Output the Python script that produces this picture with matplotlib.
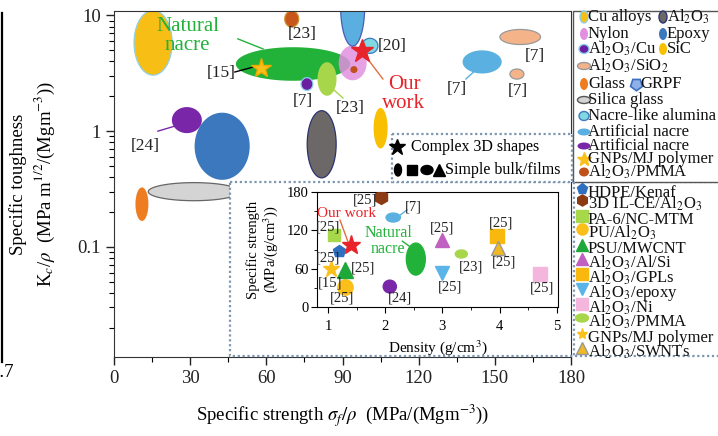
import numpy as np
import matplotlib.pyplot as plt
from matplotlib.patches import Rectangle, Ellipse
from matplotlib.ticker import MultipleLocator, NullFormatter

plt.rcParams['font.family'] = ['Liberation Serif', 'DejaVu Serif']
plt.rcParams['mathtext.fontset'] = 'stix'

# ---- main chart: material regions (centre and span) ----
region_names = ['Silica glass', 'Glass', 'Epoxy', 'Cu alloys', 'Artificial nacre [24]', 'Natural nacre',
                'Al2O3', 'SiC', 'Nacre [23]', 'Al2O3/Cu [7]', 'Nylon', 'Al2O3/PMMA', 'GRPF',
                'Nacre-like alumina [20]', 'Al2O3/PMMA [23]', 'Artificial nacre [7]',
                'Al2O3/SiO2 [7] a', 'Al2O3/SiO2 [7] b']
region_strength = [31.5, 11, 42.6, 15.4, 28.7, 70.5, 81.8, 105, 83.9, 76, 94, 94.5, 94,
                   100.8, 70, 145, 160, 158.7]
region_toughness = [0.30, 0.234, 0.74, 5.8, 1.245, 3.8, 0.77, 1.06, 2.82, 2.55, 3.88, 3.4, 12,
                    5.45, 9.3, 3.96, 6.5, 3.11]
region_strength_span = [36, 5.1, 21.7, 15, 11.8, 45, 11.4, 5.5, 7.5, 4.7, 11, 2.8, 9.5,
                        6.3, 5.5, 15.4, 16, 5.5]
# toughness span in decades (log axis)
region_toughness_span = [0.156, 0.29, 0.58, 0.56, 0.225, 0.29, 0.58, 0.35, 0.29, 0.11, 0.30, 0.06, 0.69,
                         0.13, 0.14, 0.2, 0.13, 0.087]

star_names = ['GNPs/MJ polymer', 'Our work']
star_strength = [57.9, 97.6]
star_toughness = [3.5, 4.93]

ref_text = ['[23]', '[15]', '[7]', '[23]', '[20]', '[7]', '[7]', '[7]', '[24]']
ref_x = [74, 42.1, 74.4, 92.9, 109.4, 135, 165.7, 159, 12.2]
ref_y = [6.9, 3.18, 1.82, 1.58, 5.45, 2.31, 4.46, 2.22, 0.74]

# leader lines (x pair, y pair)
leader_x = [(48.8, 58.7), (47.6, 54.7), (86.2, 90.2), (99.6, 105.9), (142.1, 138.6), (17.3, 24)]
leader_y = [(6.26, 5.13), (3.24, 3.57), (2.31, 1.93), (4.29, 2.82), (3.31, 2.82), (1.0, 1.105)]

# ---- inset: specific strength vs density ----
ins_names = ['HDPE/Kenaf', '3D IL-CE/Al2O3', 'PA-6/NC-MTM', 'PU/Al2O3', 'PSU/MWCNT', 'Al2O3/Al/Si',
             'Al2O3/GPLs', 'Al2O3/epoxy', 'Al2O3/Ni', 'GNPs/MJ polymer', 'Al2O3/SWNTs', 'Our work']
ins_density = [1.2, 1.93, 1.1, 1.3, 1.3, 3.0, 3.95, 3.0, 4.7, 1.05, 3.98, 1.4]
ins_strength = [88, 172, 112, 32, 58, 105, 111, 53, 51, 60, 93, 97]

ins_region_names = ['Natural nacre', 'Artificial nacre [7]', 'Artificial nacre [24]', 'Al2O3/PMMA [23]']
ins_region_density = [2.535, 2.14, 2.08, 3.33]
ins_region_strength = [75, 140, 32, 83]
ins_region_dspan = [0.33, 0.25, 0.23, 0.21]
ins_region_sspan = [50, 14, 20, 12.5]

ins_ref_text = ['[25]', '[7]', '[25]', '[25]', '[15]', '[25]', '[25]', '[24]', '[25]', '[25]', '[23]',
                '[25]', '[25]', '[25]']
ins_ref_x = [1.65, 2.49, 1.0, 1.0, 1.03, 1.61, 1.25, 2.26, 3.0, 3.13, 3.5, 4.02, 4.07, 4.74]
ins_ref_y = [167, 157, 125, 77, 37, 61, 14, 14, 123, 31, 63, 131, 70, 30]

# ---- styles ----
region_face = ['#d4d4d4', '#ee7d22', '#3c78be', '#f7be16', '#7a26a8', '#22b23a',
               '#6d6868', '#f8c000', '#a8d64a', '#6a1fa0', '#e28fe0', '#c0501c', '#5aaee0',
               '#80d8e2', '#c8561a', '#5ab0e0', '#f5b38a', '#f5b38a']
region_edge = ['#666666', 'none', 'none', '#8fd0e8', 'none', 'none',
               '#2b3370', 'none', 'none', '#8fd0f0', 'none', 'none', '#4a5fb0',
               '#3b7bbf', '#d09030', 'none', '#999999', '#999999']
region_alpha = [1] * 10 + [0.85] + [1] * 7

ins_marker = ['p', 'h', 's', 'o', '^', '^', 's', 'v', 's', '*', '^', '*']
ins_color = ['#2f6fbf', '#8b3a12', '#a6d84a', '#fbbf1a', '#1fa83a', '#c060c0', '#f9b80e', '#5ab4e8',
             '#f4b6dc', '#fbc01a', '#f0b823', '#e8242a']
ins_ms = [9, 10, 8, 11, 11, 10, 10, 10, 10, 12, 10, 14]
ins_region_color = ['#22b23a', '#5ab0e0', '#7a26a8', '#a8d64a']

fig = plt.figure(figsize=(7.18, 4.36), dpi=100)
W, H = 718, 436


def frac(x0, y0, x1, y1):
    return [x0 / W, 1 - y1 / H, (x1 - x0) / W, (y1 - y0) / H]


ax = fig.add_axes(frac(114, 11, 571, 357), zorder=0)
t = np.linspace(0, 2 * np.pi, 160)
for i in range(len(region_names)):
    xs = region_strength[i] + region_strength_span[i] / 2 * np.cos(t)
    ys = 10 ** (np.log10(region_toughness[i]) + region_toughness_span[i] / 2 * np.sin(t))
    ax.fill(xs, ys, fc=region_face[i], ec=region_edge[i], lw=0.9, alpha=region_alpha[i], zorder=2 + i * 0.01)

ax.plot(star_strength[0], star_toughness[0], marker='*', ms=15, color='#fbc01a', mec='#f0a800', zorder=4)
ax.plot(star_strength[1], star_toughness[1], marker='*', ms=17, color='#e8242a', zorder=4)

leader_colors = ['#22b23a', 'black', '#a8d64a', '#e07040', '#5ab0e0', '#7a26a8']
for lx, ly, c in zip(leader_x, leader_y, leader_colors):
    ax.plot(lx, ly, color=c, lw=1.0, zorder=3)
for s, x, y in zip(ref_text, ref_x, ref_y):
    ax.text(x, y, s, fontsize=12.5, ha='center', va='center', color='#222222', zorder=5)
ax.text(29, 6.64, 'Natural\nnacre', fontsize=15, color='#22b23a', ha='center', va='center',
        linespacing=1.0, zorder=5)
ax.text(114.2, 2.09, 'Our\nwork', fontsize=15, color='#e8242a', ha='center', va='center',
        linespacing=1.0, zorder=5)

ax.set_yscale('log')
ax.set_xlim(0, 180)
ax.set_ylim(0.0112, 10.9)
ax.set_xticks(range(0, 181, 30))
ax.xaxis.set_minor_locator(MultipleLocator(15))
ax.set_yticks([0.1, 1, 10], labels=['0.1', '1', '10'])
ax.yaxis.set_minor_formatter(NullFormatter())
ax.tick_params(which='major', direction='out', length=6, width=1, labelsize=13.5, colors='#222222')
ax.tick_params(which='minor', direction='out', length=3.5, width=0.8)
for sp in ax.spines.values():
    sp.set_color('#333333')
ax.set_xlabel('Specific strength $\\sigma_f/\\rho$  (MPa/(Mgm$^{-3}$))', fontsize=13.5, labelpad=11)
ax.set_ylabel('Specific toughness\nK$_c$/$\\rho$  (MPa m$^{1/2}$/(Mgm$^{-3}$))', fontsize=13.5,
              linespacing=1.3)
ax.yaxis.set_label_coords(-0.125, 0.5)

# overlay for boxes and legends (pixel coordinates)
ov = fig.add_axes([0, 0, 1, 1], zorder=1)
ov.set_xlim(0, W)
ov.set_ylim(H, 0)
ov.axis('off')
dot = '#7d97b0'
ov.add_patch(Rectangle((230, 182), 340, 174, fc='white', ec='none'))
ov.add_patch(Rectangle((230, 182), 495, 174, fc='none', ec=dot, lw=1.6, ls=(0, (1, 1.2))))
ov.plot([574, 574], [182, 356], color=dot, lw=1.6, ls=(0, (1, 1.2)))
ov.add_patch(Rectangle((573, 11), 150, 171, fc='white', ec='#555555', lw=1))
ov.add_patch(Rectangle((392, 134), 180, 48, fc='white', ec=dot, lw=1.6, ls=(0, (1, 1.2))))
ov.plot([1.5, 1.5], [13, 362], color='black', lw=1.6)
ov.text(14, 372, '0.7', ha='right', va='center', fontsize=13.5)

# shape legend
ov.plot(397, 147, marker='*', ms=12, color='black')
ov.text(411, 147, 'Complex 3D shapes', fontsize=11.5, va='center')
ov.add_patch(Ellipse((398, 170), 7, 12, color='black'))
ov.add_patch(Rectangle((407, 165), 10, 10, color='black'))
ov.add_patch(Ellipse((427, 170), 12, 9, color='black'))
ov.plot(439, 170, marker='^', ms=8, color='black')
ov.text(445, 170, 'Simple bulk/films', fontsize=11.5, va='center')

# legend 1 (regions)
leg1 = [('Cu alloys', 584, 17, 'v', '#f7be16', '#8fd0e8'),
        ('Al$_2$O$_3$', 663, 17, 'v', '#6d6868', '#2b3370'),
        ('Nylon', 584, 34, 'v', '#e28fe0', 'none'),
        ('Epoxy', 663, 34, 'v', '#3c78be', 'none'),
        ('Al$_2$O$_3$/Cu', 584, 49, 'c', '#6a1fa0', '#8fd0f0'),
        ('SiC', 663, 49, 'v', '#f8c000', 'none'),
        ('Al$_2$O$_3$/SiO$_2$', 584, 66, 'h', '#f5b38a', '#999999'),
        ('Glass', 584, 84, 'v', '#ee7d22', 'none'),
        ('GRPF', 636, 84, 'g', '#8fb0e8', '#3b6fc0'),
        ('Silica glass', 584, 100, 'h', '#d4d4d4', '#555555'),
        ('Nacre-like alumina', 584, 116, 'c', '#80d8e2', '#3b7bbf'),
        ('Artificial nacre', 584, 132, 'h', '#5ab0e0', 'none'),
        ('Artificial nacre', 584, 146, 'h', '#7a26a8', 'none'),
        ('GNPs/MJ polymer', 584, 159, 's', '#fbc01a', 'none'),
        ('Al$_2$O$_3$/PMMA', 584, 172, 'c', '#c0501c', 'none')]
for lab, x, y, kind, fc, ec in leg1:
    if kind == 'v':
        ov.add_patch(Ellipse((x, y), 8, 12, fc=fc, ec=ec, lw=1))
    elif kind == 'h':
        ov.add_patch(Ellipse((x, y), 13, 7, fc=fc, ec=ec, lw=1))
    elif kind == 'c':
        ov.add_patch(Ellipse((x, y), 10, 9, fc=fc, ec=ec, lw=1))
    elif kind == 'g':
        ov.plot(x, y, marker=(5, 0, 180), ms=9, color=fc, mec=ec, mew=1.2)
    else:
        ov.plot(x, y, marker='*', ms=10, color=fc)
    ov.text(x + 4, y, lab, fontsize=12, va='center', ha='left', color='#111111')

# legend 2 (inset markers)
leg2_y = [193, 204, 220, 233, 249, 263, 278, 293, 308, 322, 338, 352]
leg2_order = [0, 1, 2, 3, 4, 5, 6, 7, 8, None, 9, 10]
leg2_labels = ['HDPE/Kenaf', '3D IL-CE/Al$_2$O$_3$', 'PA-6/NC-MTM', 'PU/Al$_2$O$_3$', 'PSU/MWCNT',
               'Al$_2$O$_3$/Al/Si', 'Al$_2$O$_3$/GPLs', 'Al$_2$O$_3$/epoxy', 'Al$_2$O$_3$/Ni',
               'Al$_2$O$_3$/PMMA', 'GNPs/MJ polymer', 'Al$_2$O$_3$/SWNTs']
for y, k, lab in zip(leg2_y, leg2_order, leg2_labels):
    if k is None:
        ov.add_patch(Ellipse((582, y - 4), 13, 8, color='#a8d64a'))
    else:
        mec = '#999999' if ins_names[k] == 'Al2O3/SWNTs' else ins_color[k]
        ov.plot(582, y - 4, marker=ins_marker[k], ms=8, color=ins_color[k], mec=mec)
    ov.text(588, y, lab, fontsize=12, va='center', ha='left', color='#111111')

# inset axes
ins = fig.add_axes(frac(317, 192, 558, 307), zorder=2)
for i in range(len(ins_region_names)):
    ins.add_patch(Ellipse((ins_region_density[i], ins_region_strength[i]), ins_region_dspan[i],
                          ins_region_sspan[i], color=ins_region_color[i], zorder=2))
for i in range(len(ins_names)):
    mec = '#999999' if ins_names[i] == 'Al2O3/SWNTs' else ins_color[i]
    ins.plot(ins_density[i], ins_strength[i], marker=ins_marker[i], ms=ins_ms[i], color=ins_color[i],
             mec=mec, zorder=3)
for s, x, y in zip(ins_ref_text, ins_ref_x, ins_ref_y):
    ins.text(x, y, s, fontsize=10.5, ha='center', va='center', color='#222222', zorder=4)
ins.plot([2.25, 2.38], [143, 152], color='#5ab0e0', lw=1, zorder=2)
ins.plot([1.21, 1.35], [136, 102], color='#e07040', lw=1, zorder=2)
ins.plot([2.3, 2.44], [103, 94], color='#22b23a', lw=1, zorder=2)
ins.text(1.33, 147, 'Our work', fontsize=11, color='#e8242a', ha='center', va='center', zorder=4)
ins.text(2.05, 103, 'Natural\nnacre', fontsize=11.5, color='#22b23a', ha='center', va='center',
         linespacing=1.05, zorder=4)
ins.set_xlim(0.808, 5.02)
ins.set_ylim(0, 180)
ins.set_xticks([1, 2, 3, 4, 5])
ins.set_yticks([0, 60, 120, 180])
ins.xaxis.set_minor_locator(MultipleLocator(0.5))
ins.yaxis.set_minor_locator(MultipleLocator(30))
ins.tick_params(which='major', direction='out', length=4, labelsize=10.5, pad=2)
ins.tick_params(axis='x', which='major', pad=5)
ins.tick_params(which='minor', direction='out', length=2.5)
ins.set_xlabel('Density (g/cm$^3$)', fontsize=11, labelpad=4)
ins.set_ylabel('Specific strength\n(MPa/(g/cm$^3$))', fontsize=10.5, labelpad=5, linespacing=1.05)

fig.savefig('out.png', dpi=100)
